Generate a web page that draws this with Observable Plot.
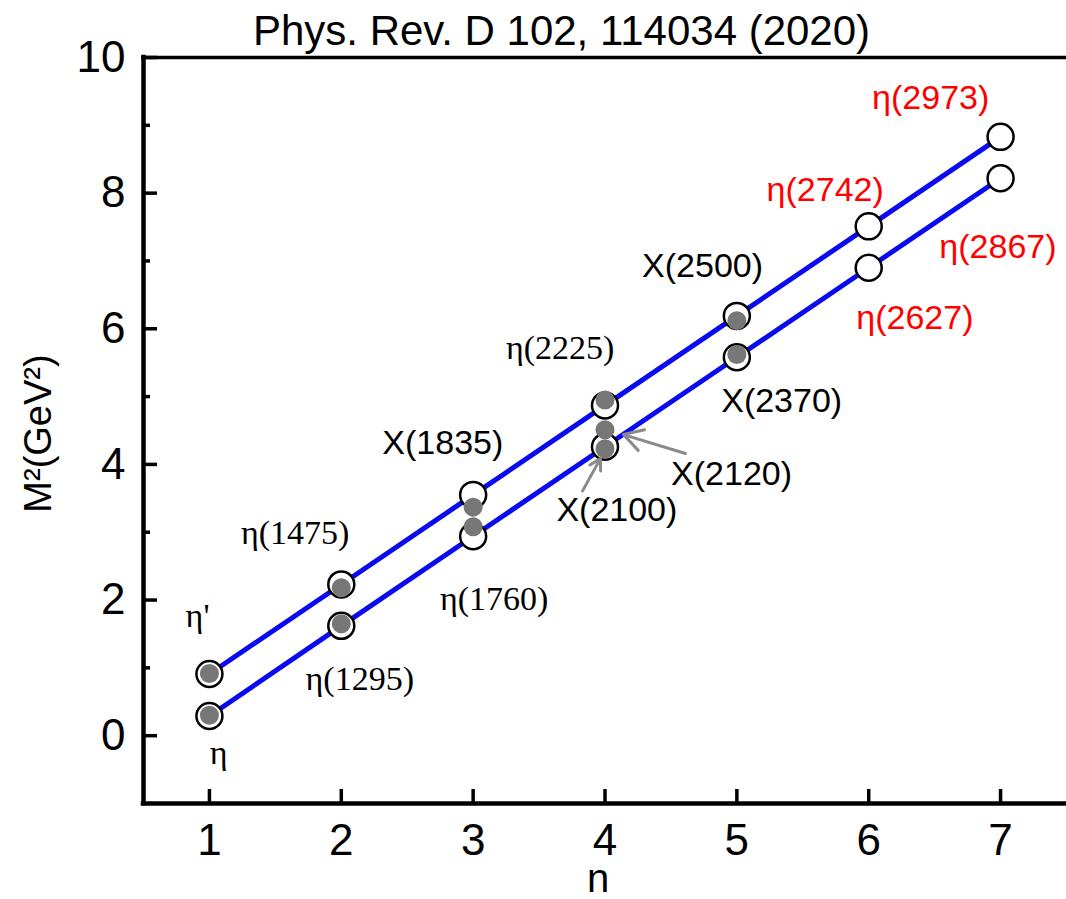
<!DOCTYPE html>
<html><head><meta charset="utf-8">
<script src="https://cdn.jsdelivr.net/npm/d3@7"></script>
<script src="https://cdn.jsdelivr.net/npm/@observablehq/plot@0.6"></script>
<style>body{margin:0;background:#fff} #chart svg{display:block}</style>
</head><body><div id="chart"></div>
<script>
const titleText = "Phys. Rev. D 102, 114034 (2020)";
const xLabel = "n";
const yLabel = "M²(GeV²)";
const nValues = [1, 2, 3, 4, 5, 6, 7];
const upperTheory = [0.91, 2.23, 3.55, 4.87, 6.19, 7.51, 8.83];
const lowerTheory = [0.29, 1.62, 2.94, 4.26, 5.58, 6.90, 8.22];
const expN  = [1, 1, 2, 2, 3, 3, 4, 4, 4, 5, 5];
const expM2 = [0.917, 0.300, 2.18, 1.65, 3.37, 3.08, 4.95, 4.51, 4.23, 6.12, 5.62];

const serifLabels = ["η'", "η", "η(1295)", "η(1475)", "η(1760)", "η(2225)"];
const serifX = [0.91, 1.07, 2.14, 1.65, 3.16, 3.66];
const serifY = [1.77, -0.25, 0.84, 2.99, 2.02, 5.71];

const sansLabels = ["X(1835)", "X(2100)", "X(2120)", "X(2500)", "X(2370)"];
const sansX = [2.77, 4.09, 4.96, 4.74, 5.34];
const sansY = [4.32, 3.32, 3.85, 6.92, 4.94];

const redLabels = ["η(2742)", "η(2627)", "η(2867)", "η(2973)"];
const redX = [5.67, 6.35, 6.98, 6.47];
const redY = [8.05, 6.15, 7.20, 9.40];

const arrowX1 = [4.61, 3.83];
const arrowY1 = [4.16, 3.61];
const arrowX2 = [4.14, 3.965];
const arrowY2 = [4.44, 4.085];

const yMajorTicks = [0, 2, 4, 6, 8, 10];
const yMinorTicks = [1, 3, 5, 7, 9];
const xTicks = [1, 2, 3, 4, 5, 6, 7];

const sans = "'Liberation Sans', Arial, Helvetica, sans-serif";
const serif = "'Liberation Serif', 'Times New Roman', serif";
const noText = () => "";
const intText = d => String(d);

const chart = Plot.plot({
  width: 1066,
  height: 899,
  marginLeft: 143,
  marginRight: 0,
  marginTop: 57,
  marginBottom: 96,
  x: {domain: [0.5, 7.5], label: null},
  y: {domain: [-1, 10], label: null},
  style: {fontFamily: sans, background: "white", color: "black", overflow: "visible"},
  marks: [
    Plot.line(nValues, {x: d => d, y: (d, i) => upperTheory[i], stroke: "#0a0af0", strokeWidth: 5}),
    Plot.line(nValues, {x: d => d, y: (d, i) => lowerTheory[i], stroke: "#0a0af0", strokeWidth: 5}),
    Plot.dot(nValues, {x: d => d, y: (d, i) => upperTheory[i], r: 13, fill: "white", stroke: "black", strokeWidth: 2.5}),
    Plot.dot(nValues, {x: d => d, y: (d, i) => lowerTheory[i], r: 13, fill: "white", stroke: "black", strokeWidth: 2.5}),
    Plot.dot(expN, {x: d => d, y: (d, i) => expM2[i], r: 9.5, fill: "#777777", stroke: "none"}),
    Plot.arrow(arrowX1, {x1: d => d, y1: (d, i) => arrowY1[i], x2: (d, i) => arrowX2[i], y2: (d, i) => arrowY2[i],
      stroke: "#8a8a8a", strokeWidth: 3, headLength: 14}),
    Plot.text(serifLabels, {x: (d, i) => serifX[i], y: (d, i) => serifY[i], text: d => d,
      fontFamily: serif, fontSize: 34, fill: "black", textAnchor: "middle", lineAnchor: "middle"}),
    Plot.text(sansLabels, {x: (d, i) => sansX[i], y: (d, i) => sansY[i], text: d => d,
      fontFamily: sans, fontSize: 34, fill: "black", textAnchor: "middle", lineAnchor: "middle"}),
    Plot.text(redLabels, {x: (d, i) => redX[i], y: (d, i) => redY[i], text: d => d,
      fontFamily: sans, fontSize: 34, fill: "#ff0000", textAnchor: "middle", lineAnchor: "middle"}),
    // frame
    Plot.ruleX([0.5], {y1: -1, y2: 10, stroke: "black", strokeWidth: 4.5, strokeLinecap: "square"}),
    Plot.ruleY([-1], {stroke: "black", strokeWidth: 4.5, strokeLinecap: "square"}),
    Plot.ruleY([10], {stroke: "black", strokeWidth: 3.5, strokeLinecap: "square"}),
    // axes
    Plot.axisY(yMajorTicks, {anchor: "left", tickSize: -14, tickFormat: noText, label: null, stroke: "black", strokeWidth: 3.5}),
    Plot.axisY(yMinorTicks, {anchor: "left", tickSize: -7, tickFormat: noText, label: null, stroke: "black", strokeWidth: 3.5}),
    Plot.axisY(yMajorTicks, {anchor: "left", tickSize: 0, tickPadding: 18, tickFormat: intText, fontSize: 44, label: null, color: "black"}),
    Plot.axisX(xTicks, {anchor: "bottom", tickSize: -14, tickFormat: noText, label: null, stroke: "black", strokeWidth: 3.5}),
    Plot.axisX(xTicks, {anchor: "bottom", tickSize: 0, tickPadding: 20, tickFormat: intText, fontSize: 44, label: null, color: "black"}),
    // titles
    Plot.text([titleText], {frameAnchor: "top-left", dx: 418, dy: -13, text: d => d,
      textAnchor: "middle", lineAnchor: "bottom", fontSize: 42, fill: "black"}),
    Plot.text([yLabel], {frameAnchor: "left", dx: -105, dy: 3, rotate: -90, text: d => d,
      textAnchor: "middle", lineAnchor: "middle", fontSize: 38, fill: "black"}),
    Plot.text([xLabel], {frameAnchor: "bottom", dx: -7, dy: 88, text: d => d,
      textAnchor: "middle", lineAnchor: "bottom", fontSize: 40, fill: "black"})
  ]
});
document.getElementById("chart").appendChild(chart);
</script>
</body></html>
